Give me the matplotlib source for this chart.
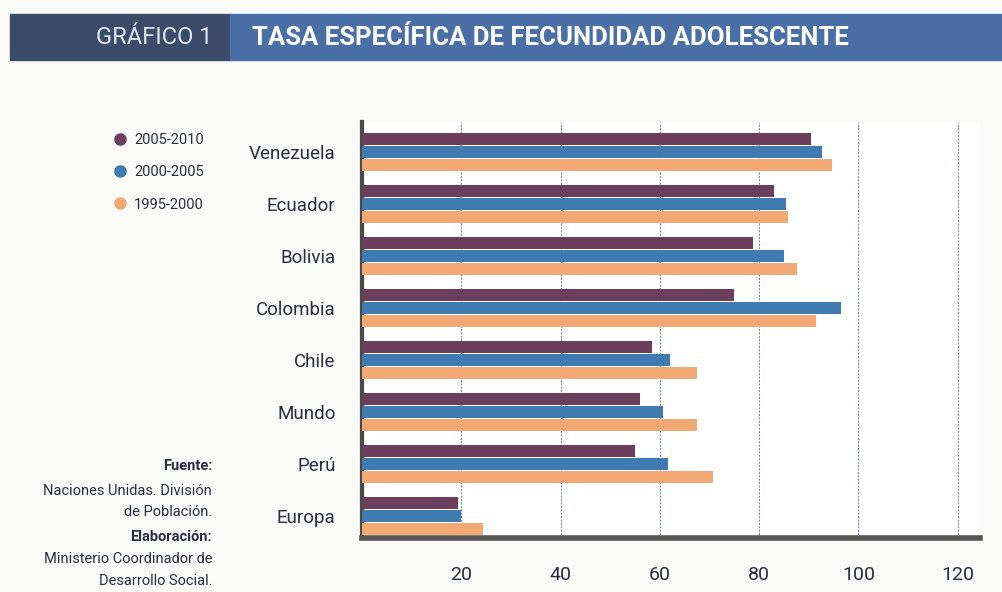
import numpy as np
import matplotlib.pyplot as plt
from matplotlib.lines import Line2D
from matplotlib.patches import Rectangle

# Data (tasa por 1000 mujeres de 15-19 años)
paises = ["Venezuela", "Ecuador", "Bolivia", "Colombia", "Chile", "Mundo", "Perú", "Europa"]
p2005_2010 = [90.5, 83.0, 78.8, 75.0, 58.4, 56.0, 55.0, 19.4]
p2000_2005 = [92.7, 85.5, 85.0, 96.4, 62.0, 60.6, 61.6, 20.0]
p1995_2000 = [94.7, 85.9, 87.7, 91.5, 67.5, 67.5, 70.7, 24.4]
periodos = ["2005-2010", "2000-2005", "1995-2000"]
xticks = [20, 40, 60, 80, 100, 120]

colores = ["#6b3e5e", "#3f7ab0", "#f2a873"]
txt_col = "#2b2b45"
fam = ["Roboto", "DejaVu Sans"]

fig = plt.figure(figsize=(10.02, 5.92), dpi=100)
fig.patch.set_facecolor("#fafaf8")

# header band
fig.add_artist(Rectangle((10 / 1002, 1 - 60 / 592), 220 / 1002, 46 / 592,
                         transform=fig.transFigure, color="#3a4c69", zorder=0))
fig.add_artist(Rectangle((230 / 1002, 1 - 60 / 592), 772 / 1002, 46 / 592,
                         transform=fig.transFigure, color="#4a6ea6", zorder=0))
fig.text(212 / 1002, 1 - 38 / 592, "GRÁFICO 1", color="#dfe6f0", fontsize=17,
         ha="right", va="center", family=fam)
fig.text(252 / 1002, 1 - 38 / 592, "TASA ESPECÍFICA DE FECUNDIDAD ADOLESCENTE",
         color="white", fontsize=18.5, fontweight="bold", ha="left", va="center", family=fam)

ax = fig.add_axes([362 / 1002, 1 - 538 / 592, 618 / 1002, 416 / 592])
ax.set_facecolor("white")

y = np.arange(len(paises))
h = 0.23
series = [p2005_2010, p2000_2005, p1995_2000]
for i, (vals, c) in enumerate(zip(series, colores)):
    ax.barh(y + (i - 1) * 0.25, vals, height=h, color=c, zorder=3)

ax.set_xlim(0, 124.5)
ax.set_ylim(len(paises) - 1 + 0.42, -0.58)
ax.set_xticks(xticks)
ax.set_xticklabels([str(t) for t in xticks], family=fam, fontsize=14, color=txt_col)
ax.set_yticks(y)
ax.set_yticklabels(paises, family=fam, fontsize=13.5, color=txt_col)
ax.tick_params(axis="x", length=0, pad=20)
ax.tick_params(axis="y", length=0, pad=19)
ax.grid(axis="x", color="#6f74c8", linestyle=(0, (2, 1.5)), linewidth=0.7, zorder=1)

for s in ["top", "right"]:
    ax.spines[s].set_visible(False)
ax.spines["left"].set_color("#4a4a4a")
ax.spines["left"].set_linewidth(3)
ax.spines["bottom"].set_color("#555555")
ax.spines["bottom"].set_linewidth(4)

# legend
handles = [Line2D([], [], marker="o", linestyle="none", markersize=8, color=c) for c in colores]
leg = fig.legend(handles, periodos, loc="upper left", bbox_to_anchor=(92 / 1002, 1 - 120 / 592),
                 frameon=False, handletextpad=0.0, labelspacing=1.25, prop={"family": fam, "size": 10.5})
for t in leg.get_texts():
    t.set_color(txt_col)

# source notes
notas = [("Fuente:", True, 466), ("Naciones Unidas. División", False, 491),
         ("de Población.", False, 512), ("Elaboración:", True, 537),
         ("Ministerio Coordinador de", False, 559), ("Desarrollo Social.", False, 581)]
for texto, negrita, ypx in notas:
    fig.text(212 / 1002, 1 - ypx / 592, texto, ha="right", va="center", fontsize=10.5,
             fontweight="bold" if negrita else "normal", color=txt_col, family=fam)

fig.savefig("out.png", dpi=100, facecolor=fig.get_facecolor())
